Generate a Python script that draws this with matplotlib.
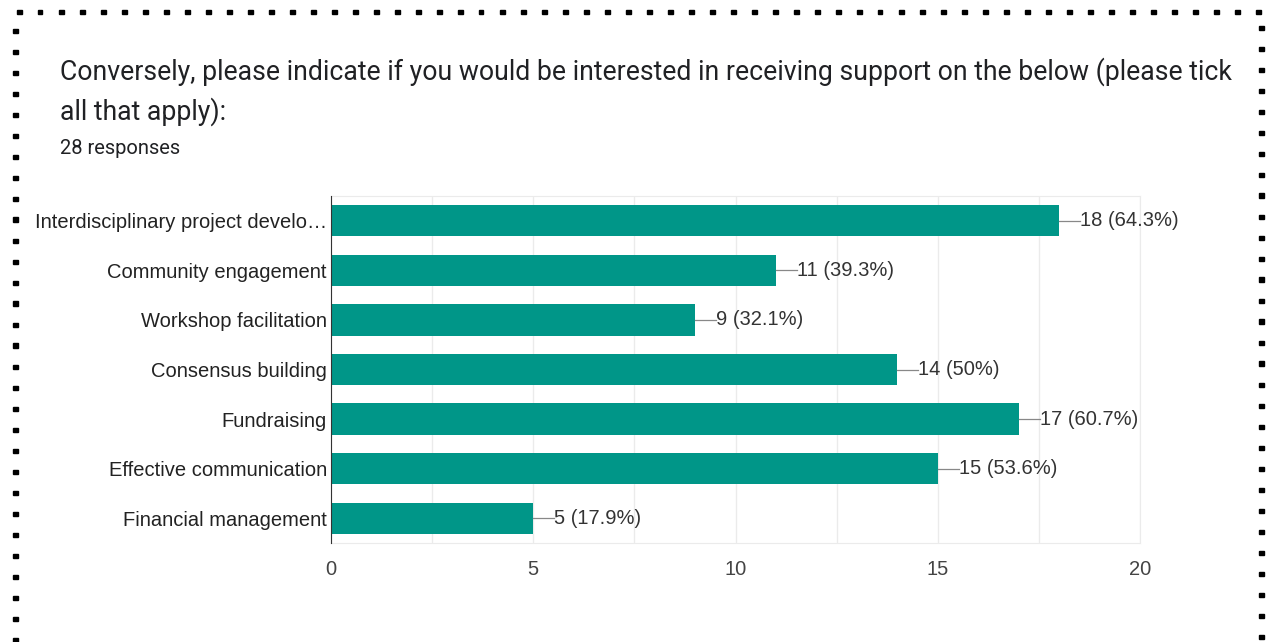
import matplotlib.pyplot as plt
from matplotlib.patches import Rectangle

categories = ['Interdisciplinary project develo…', 'Community engagement', 'Workshop facilitation',
              'Consensus building', 'Fundraising', 'Effective communication', 'Financial management']
counts = [18, 11, 9, 14, 17, 15, 5]
percents = ['64.3%', '39.3%', '32.1%', '50%', '60.7%', '53.6%', '17.9%']
xticks = [0, 5, 10, 15, 20]

W, H = 1270, 642
fig = plt.figure(figsize=(W / 100, H / 100), dpi=100)

# dotted frame around the card
for x in range(17, 1262, 21):
    fig.add_artist(Rectangle((x / W, 1 - 14 / H), 4.5 / W, 4.5 / H, color='black', transform=fig.transFigure))
for y in range(15, 642, 21):
    fig.add_artist(Rectangle((13 / W, 1 - (y + 18) / H), 4.5 / W, 4.5 / H, color='black', transform=fig.transFigure))
    fig.add_artist(Rectangle((1259 / W, 1 - (y + 15) / H), 4.5 / W, 4.5 / H, color='black', transform=fig.transFigure))

fig.text(60 / W, 1 - 72 / H, 'Conversely, please indicate if you would be interested in receiving support on the below (please tick',
         fontsize=19.2, family='Roboto', color='#202124', va='center')
fig.text(60 / W, 1 - 112 / H, 'all that apply):', fontsize=19.2, family='Roboto', color='#202124', va='center')
fig.text(60 / W, 1 - 148 / H, '28 responses', fontsize=14.5, family='Roboto', color='#202124', va='center')

ax = fig.add_axes([331 / W, 1 - 543 / H, (1140 - 331) / W, (543 - 196) / H])
ypos = list(range(len(categories)))
ax.barh(ypos, counts, height=0.63, color='#009688', zorder=3)
ax.set_xlim(0, 20)
ax.set_ylim(len(categories) - 0.5, -0.5)
ax.set_xticks(xticks)
ax.set_xticks([2.5, 7.5, 12.5, 17.5], minor=True)
ax.set_xticklabels([str(t) for t in xticks], fontsize=14.5, family='Liberation Sans', color='#444444')
ax.set_yticks(ypos)
ax.set_yticklabels(categories, fontsize=14.5, family='Liberation Sans', color='#222222')
ax.tick_params(axis='y', length=0, pad=3)
ax.tick_params(axis='x', pad=12, which='both', length=0)
ax.grid(axis='x', which='both', color='#ebebeb', linewidth=1, zorder=0)
for s in ['top', 'bottom', 'right']:
    ax.spines[s].set_color('#ebebeb')
ax.spines['left'].set_color('#333333')
ax.spines['left'].set_zorder(4)

for i, (c, p) in enumerate(zip(counts, percents)):
    ax.plot([c, c + 0.52], [i, i], color='#888888', linewidth=0.9, zorder=3)
    ax.text(c + 0.52, i, f'{c} ({p})', fontsize=14.5, family='Liberation Sans', color='#333333', va='center')

fig.savefig('out.png', dpi=100)
